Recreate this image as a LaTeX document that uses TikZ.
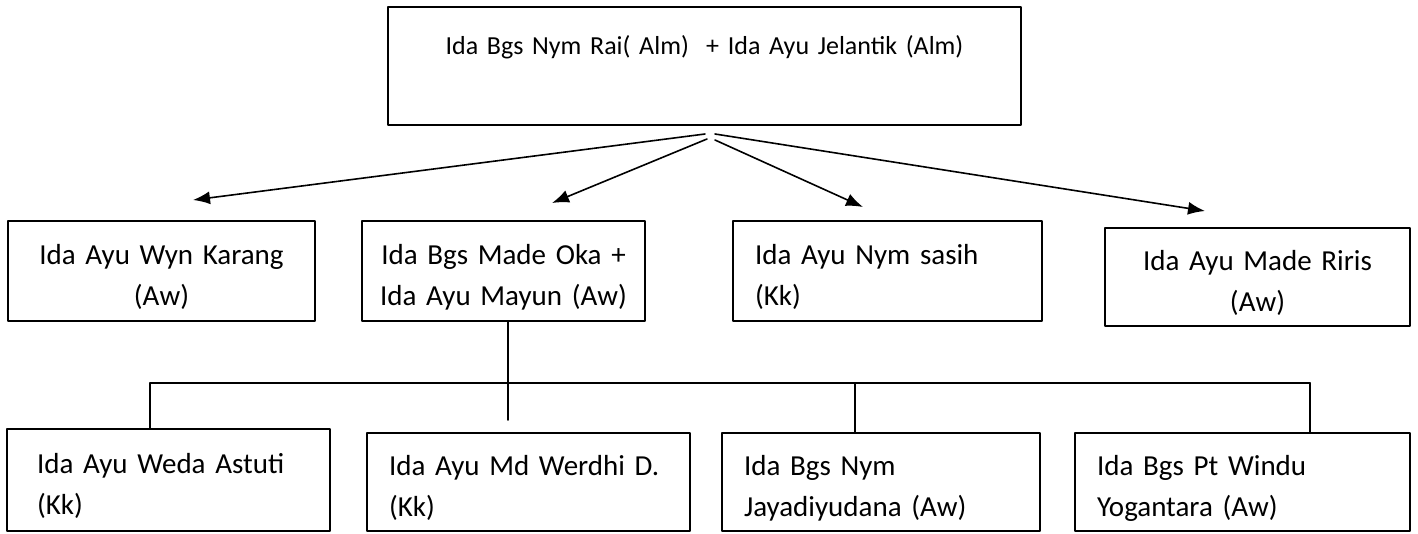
\documentclass[tikz,border=0pt]{standalone}
\usepackage{fontspec}
\setmainfont{Carlito}
\usetikzlibrary{arrows.meta}
\begin{document}
\begin{tikzpicture}[x=1pt,y=-1pt,line join=round,line cap=round,
    box/.style={draw,line width=1.6pt,inner ysep=0pt,font=\fontsize{29}{41}\selectfont,
        execute at begin node=\rule{0pt}{33pt}},
    boxc/.style={box,align=center,inner xsep=0pt,text width=#1},
    boxl/.style={box,align=left,inner xsep=22pt,text width=#1},
    famarrow/.style={line width=1.6pt,-{Latex[length=17pt,width=13pt]}},
    tree/.style={line width=1.6pt}]
    \useasboundingbox (0,0) rectangle (1418,533);
    % parents
    \node[boxc=633pt,minimum height=118pt,font=\fontsize{26}{40}\selectfont,
        execute at begin node=\relax] (rai) at (704.5,66)
        {Ida Bgs Nym Rai( Alm)\ \ + Ida Ayu Jelantik (Alm)\\[16pt] \mbox{}};
    % children
    \node[boxc=307pt,minimum height=100pt] (karang) at (161.5,271) {Ida Ayu Wyn Karang\\(Aw)};
    \node[boxc=283pt,minimum height=100pt] (oka) at (503.5,271) {Ida Bgs Made Oka +\\Ida Ayu Mayun (Aw)};
    \node[boxl=265pt,minimum height=100pt] (sasih) at (887.5,271) {Ida Ayu Nym sasih\\(Kk)};
    \node[boxc=305pt,minimum height=98pt] (riris) at (1257.5,277) {Ida Ayu Made Riris\\(Aw)};
    % grandchildren
    \node[boxl=263pt,inner xsep=30pt,minimum height=102pt] (weda) at (168.5,480) {Ida Ayu Weda Astuti\\(Kk)};
    \node[boxl=279pt,minimum height=98pt] (werdhi) at (528.5,482) {Ida Ayu Md Werdhi D.\\(Kk)};
    \node[boxl=274pt,minimum height=98pt] (jaya) at (881,482) {Ida Bgs Nym\\Jayadiyudana (Aw)};
    \node[boxl=291pt,minimum height=98pt] (windu) at (1242.5,482) {Ida Bgs Pt Windu\\Yogantara (Aw)};
    % arrows from the parents
    \coordinate (fkA) at (705,134); \coordinate (tipA) at (193,200);
    \coordinate (fkB) at (707,139); \coordinate (tipB) at (552,203);
    \coordinate (fkC) at (715,140); \coordinate (tipC) at (863,207);
    \coordinate (fkD) at (715,134); \coordinate (tipD) at (1205,211);
    \foreach \k in {A,B,C,D}
        \draw[famarrow] (fk\k) -- (tip\k);
    % tree below Oka
    \coordinate (stem) at (508,420);
    \coordinate (dWeda) at (150,383);
    \coordinate (dJaya) at (855,383);
    \coordinate (dWindu) at (1310,383);
    \draw[tree] (oka.south -| stem) -- (stem);
    \draw[tree] (dWeda) -- (dWindu);
    \foreach \d/\n in {dWeda/weda,dJaya/jaya,dWindu/windu}
        \draw[tree] (\d) -- (\d |- \n.north);
\end{tikzpicture}
\end{document}
